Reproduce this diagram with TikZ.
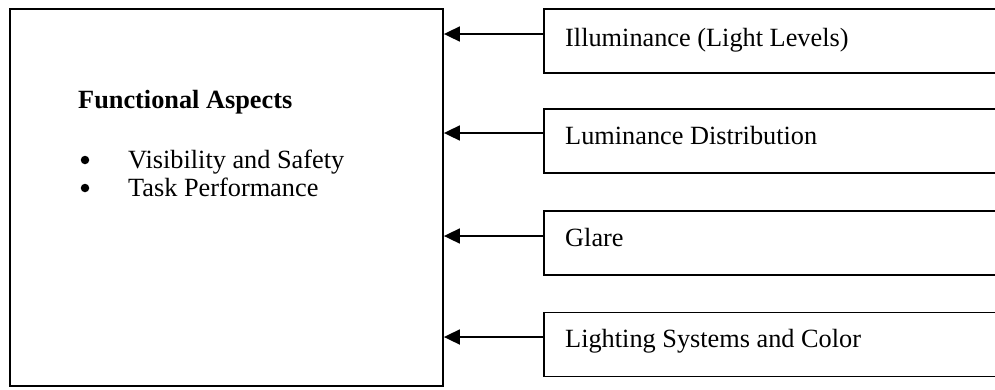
\documentclass[tikz,border=0pt]{standalone}
\usepackage{fontspec}
\setmainfont{Liberation Serif}
\usetikzlibrary{arrows.meta}
\begin{document}
\begin{tikzpicture}[x=1pt,y=-1pt,
  box/.style={draw, line width=1.8pt, inner sep=0pt},
  rbox/.style={box, minimum width=476pt, minimum height=64pt},
  lbl/.style={anchor=base west, inner sep=0pt, font=\fontsize{26.3}{30}\selectfont},
  dot/.style={circle, fill, inner sep=0pt, minimum size=8.5pt},
  conn/.style={line width=1.8pt, -{Triangle[length=16pt,width=15pt]}}]
\useasboundingbox (0,0) rectangle (995,389);
\clip (0,0) rectangle (995,389);
\fill[white] (0,0) rectangle (995,389);
\node[box, minimum width=433pt, minimum height=377pt] (main) at (226.5,197.5) {};
\node[rbox] (b1) at (782,41) {};
\node[rbox] (b2) at (782,141) {};
\node[rbox] (b3) at (782,243) {};
\node[rbox] (b4) at (782,344.5) {};
\node[lbl] (t1) at (565,46) {Illuminance (Light Levels)};
\node[lbl] (t2) at (565,144) {Luminance Distribution};
\node[lbl] (t3) at (565,246) {Glare};
\node[lbl] (t4) at (565,347) {Lighting Systems and Color};
\node[lbl, font=\fontsize{26.3}{30}\selectfont\bfseries] (fa) at (78,108) {Functional Aspects};
\node[dot] (bu1) at (85,160) {};
\node[dot] (bu2) at (85,188) {};
\node[lbl] (v1) at (128,168) {Visibility and Safety};
\node[lbl] (v2) at (128,196) {Task Performance};
\coordinate (y1) at (0,34);
\coordinate (y2) at (0,133);
\coordinate (y3) at (0,236);
\coordinate (y4) at (0,337);
\draw[conn] (b1.west |- y1) -- (main.east |- y1);
\draw[conn] (b2.west |- y2) -- (main.east |- y2);
\draw[conn] (b3.west |- y3) -- (main.east |- y3);
\draw[conn] (b4.west |- y4) -- (main.east |- y4);
\end{tikzpicture}
\end{document}
